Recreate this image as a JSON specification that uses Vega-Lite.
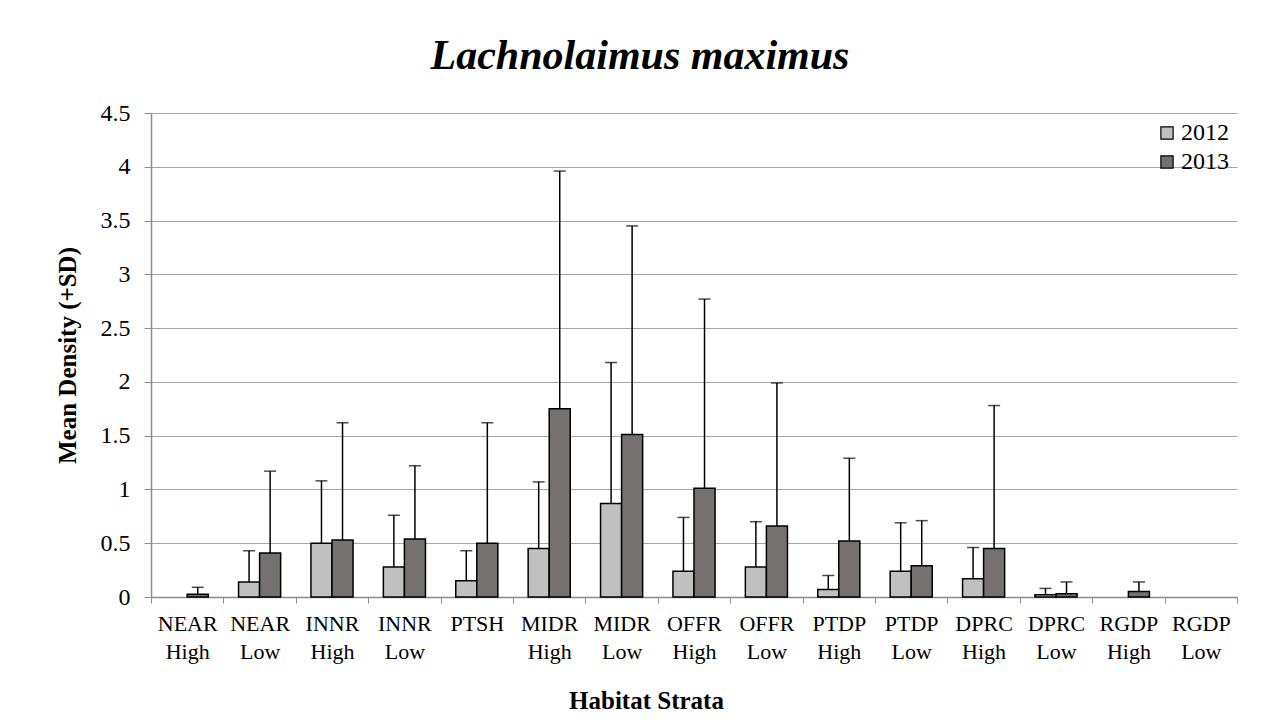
{
  "$schema": "https://vega.github.io/schema/vega-lite/v6.json",
  "width": 1086,
  "height": 484,
  "autosize": {"type": "none"},
  "padding": {"left": 151, "top": 113, "right": 36, "bottom": 126},
  "background": "white",
  "title": {
    "text": "Lachnolaimus maximus",
    "font": "Liberation Serif",
    "fontSize": 42,
    "fontStyle": "italic",
    "fontWeight": "bold",
    "color": "black",
    "anchor": "middle",
    "frame": "group",
    "baseline": "alphabetic",
    "dx": -54,
    "dy": 50,
    "offset": 40
  },
  "config": {
    "view": {"stroke": null},
    "font": "Liberation Serif",
    "axis": {
      "labelFont": "Liberation Serif",
      "titleFont": "Liberation Serif",
      "labelColor": "black",
      "titleColor": "black"
    }
  },
  "data": {
    "values": [
      {"strata": "NEAR High", "year": "2012", "mean": 0, "upper": 0},
      {"strata": "NEAR High", "year": "2013", "mean": 0.025, "upper": 0.09},
      {"strata": "NEAR Low", "year": "2012", "mean": 0.14, "upper": 0.43},
      {"strata": "NEAR Low", "year": "2013", "mean": 0.41, "upper": 1.17},
      {"strata": "INNR High", "year": "2012", "mean": 0.5, "upper": 1.08},
      {"strata": "INNR High", "year": "2013", "mean": 0.53, "upper": 1.62},
      {"strata": "INNR Low", "year": "2012", "mean": 0.28, "upper": 0.76},
      {"strata": "INNR Low", "year": "2013", "mean": 0.54, "upper": 1.22},
      {"strata": "PTSH", "year": "2012", "mean": 0.15, "upper": 0.43},
      {"strata": "PTSH", "year": "2013", "mean": 0.5, "upper": 1.62},
      {"strata": "MIDR High", "year": "2012", "mean": 0.45, "upper": 1.07},
      {"strata": "MIDR High", "year": "2013", "mean": 1.75, "upper": 3.96},
      {"strata": "MIDR Low", "year": "2012", "mean": 0.87, "upper": 2.18},
      {"strata": "MIDR Low", "year": "2013", "mean": 1.51, "upper": 3.45},
      {"strata": "OFFR High", "year": "2012", "mean": 0.24, "upper": 0.74},
      {"strata": "OFFR High", "year": "2013", "mean": 1.01, "upper": 2.77},
      {"strata": "OFFR Low", "year": "2012", "mean": 0.28, "upper": 0.7},
      {"strata": "OFFR Low", "year": "2013", "mean": 0.66, "upper": 1.99},
      {"strata": "PTDP High", "year": "2012", "mean": 0.07, "upper": 0.2},
      {"strata": "PTDP High", "year": "2013", "mean": 0.52, "upper": 1.29},
      {"strata": "PTDP Low", "year": "2012", "mean": 0.24, "upper": 0.69},
      {"strata": "PTDP Low", "year": "2013", "mean": 0.29, "upper": 0.71},
      {"strata": "DPRC High", "year": "2012", "mean": 0.17, "upper": 0.46},
      {"strata": "DPRC High", "year": "2013", "mean": 0.45, "upper": 1.78},
      {"strata": "DPRC Low", "year": "2012", "mean": 0.02, "upper": 0.08},
      {"strata": "DPRC Low", "year": "2013", "mean": 0.03, "upper": 0.14},
      {"strata": "RGDP High", "year": "2012", "mean": 0, "upper": 0},
      {"strata": "RGDP High", "year": "2013", "mean": 0.05, "upper": 0.14},
      {"strata": "RGDP Low", "year": "2012", "mean": 0, "upper": 0},
      {"strata": "RGDP Low", "year": "2013", "mean": 0, "upper": 0}
    ]
  },
  "encoding": {
    "x": {
      "field": "strata",
      "type": "nominal",
      "sort": null,
      "scale": {
        "domain": ["NEAR High", "NEAR Low", "INNR High", "INNR Low", "PTSH", "MIDR High", "MIDR Low", "OFFR High", "OFFR Low", "PTDP High", "PTDP Low", "DPRC High", "DPRC Low", "RGDP High", "RGDP Low"],
        "paddingInner": 0,
        "paddingOuter": 0
      },
      "axis": {
        "title": "Habitat Strata",
        "titleFontSize": 25,
        "titleFontWeight": "bold",
        "titlePadding": 26,
        "titleX": 495,
        "labelAngle": 0,
        "labelFontSize": 22,
        "labelLineHeight": 28,
        "labelPadding": 10,
        "labelOverlap": false,
        "labelBound": false,
        "labelExpr": "split(datum.label, ' ')",
        "tickBand": "extent",
        "tickSize": 6,
        "tickColor": "#8c8c8c",
        "domainColor": "#8c8c8c",
        "domainWidth": 1.5,
        "grid": false
      }
    },
    "xOffset": {
      "field": "year",
      "type": "nominal",
      "scale": {"domain": ["2012", "2013"], "paddingInner": 0, "paddingOuter": 0.72}
    }
  },
  "layer": [
    {
      "transform": [{"filter": "datum.mean > 0"}],
      "mark": {"type": "bar", "stroke": "black", "strokeWidth": 1.5},
      "encoding": {
        "y": {
          "field": "mean",
          "type": "quantitative",
          "scale": {"domain": [0, 4.5], "nice": false},
          "axis": {
            "title": "Mean Density (+SD)",
            "titleFontSize": 25,
            "titleFontWeight": "bold",
            "titlePadding": 20,
            "values": [0, 0.5, 1, 1.5, 2, 2.5, 3, 3.5, 4, 4.5],
            "format": "~g",
            "labelFontSize": 24,
            "labelPadding": 14,
            "tickSize": 7,
            "tickColor": "#8c8c8c",
            "domainColor": "#8c8c8c",
            "domainWidth": 1.5,
            "grid": true,
            "gridColor": "#a6a6a6",
            "gridWidth": 1.2
          }
        },
        "color": {
          "field": "year",
          "type": "nominal",
          "scale": {"domain": ["2012", "2013"], "range": ["#c0c0c0", "#767171"]},
          "legend": {
            "title": null,
            "orient": "top-right",
            "offset": 8,
            "padding": 0,
            "labelFontSize": 24,
            "labelFont": "Liberation Serif",
            "labelColor": "black",
            "labelOffset": 2,
            "symbolType": "square",
            "symbolSize": 150,
            "symbolStrokeColor": "black",
            "symbolStrokeWidth": 1.2,
            "rowPadding": 5
          }
        }
      }
    },
    {
      "transform": [{"filter": "datum.upper > datum.mean"}],
      "mark": {"type": "rule", "color": "black", "strokeWidth": 1.5},
      "encoding": {
        "y": {"field": "mean", "type": "quantitative"},
        "y2": {"field": "upper"}
      }
    },
    {
      "transform": [{"filter": "datum.upper > datum.mean"}],
      "mark": {"type": "tick", "color": "black", "thickness": 1.5, "size": 12},
      "encoding": {
        "y": {"field": "upper", "type": "quantitative"}
      }
    }
  ]
}
